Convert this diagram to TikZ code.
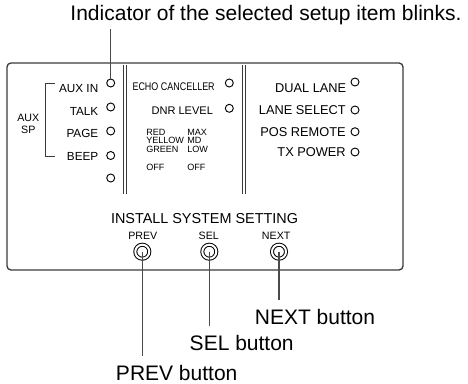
\documentclass[tikz,border=0pt]{standalone}
\usepackage{fontspec}
\setmainfont{Liberation Sans}
\usetikzlibrary{positioning, calc}
\definecolor{pnlLine}{HTML}{3A3A3A}
\definecolor{ldrLine}{HTML}{4A4A4A}
\tikzset{
  panel/.style    = {pnlLine, line width=1pt, rounded corners=3pt},
  divider/.style  = {pnlLine, line width=0.7pt},
  leader/.style   = {ldrLine, line width=1pt},
  lamp/.style     = {circle, draw=black, line width=0.7pt, minimum size=6pt, inner sep=0pt},
  btn/.style      = {circle, draw=black, line width=0.75pt, double, double distance=1.5pt,
                     minimum size=10.5pt, inner sep=0pt},
  lblL/.style     = {font=\fontsize{8.8}{10}\selectfont, inner sep=0pt},
  lblM/.style     = {font=\fontsize{8.3}{10}\selectfont, inner sep=0pt},
  lblR/.style     = {font=\fontsize{9.6}{11}\selectfont, inner sep=0pt},
  lgd/.style      = {font=\fontsize{6.8}{7}\selectfont, inner sep=0pt, anchor=west},
  btnlbl/.style   = {font=\fontsize{8}{9}\selectfont, inner sep=0pt},
  ttl/.style      = {font=\fontsize{10.8}{12}\selectfont, inner sep=0pt},
  callout/.style  = {font=\fontsize{15.75}{18}\selectfont, anchor=base},
}

\begin{document}
\begin{tikzpicture}[x=0.75pt,y=-0.75pt]
  \useasboundingbox (0,0) rectangle (468,383);
  % front panel
  \draw[panel] (7,63) rectangle (403,270);
  \draw[divider] (123.3,65) -- (123.3,194) (126.7,65) -- (126.7,194);
  \draw[divider] (242.2,65) -- (242.2,194) (245.6,65) -- (245.6,194);

  % left group
  \foreach \nm/\yy in {Aux/83, Talk/107, Page/131, Beep/155.5, Spare/178}
    \node[lamp] (lamp\nm) at (110.7,\yy) {};
  \node[lblL, anchor=east] (tAux)  at (98.5,89)  {AUX IN};
  \node[lblL, anchor=east] (tTalk) at (98.5,111) {TALK};
  \node[lblL, anchor=east] (tPage) at (98.5,133) {PAGE};
  \node[lblL, anchor=east] (tBeep) at (98.5,156) {BEEP};
  \draw[divider] (55,83.3) -- (45,83.3) -- (45,156) -- (55,156);
  \node[btnlbl, align=center] (tAuxSp) at (28.3,124) {AUX\\SP};

  % middle group
  \node[lamp] (lampEcho) at (229.3,83) {};
  \node[lamp] (lampDnr)  at (229.3,108.3) {};
  \node[lblM, anchor=east] (tEcho) at (215,86.7) {\scalebox{0.81}[1]{ECHO CANCELLER}};
  \node[lblM, anchor=east] (tDnr)  at (213.3,111) {DNR LEVEL};
  \foreach \cl/\lv/\yy [count=\i] in {RED/MAX/132, YELLOW/MD/140.5, GREEN/LOW/149, OFF/OFF/167.5}{
    \node[lgd] (lgColor\i) at (146,\yy) {\cl};
    \node[lgd] (lgLevel\i) at (187,\yy) {\lv};
  }

  % right group
  \foreach \nm/\yy in {Dual/82, Lane/110, Pos/131.7, Tx/152}
    \node[lamp] (lamp\nm) at (355,\yy) {};
  \node[lblR, anchor=east] (tDual) at (346.5,88)    {DUAL LANE};
  \node[lblR, anchor=east] (tLane) at (346,110)     {LANE SELECT};
  \node[lblR, anchor=east] (tPos)  at (346,131.7)   {POS REMOTE};
  \node[lblR, anchor=east] (tTx)   at (346,152)     {TX POWER};

  % setting buttons
  \node[ttl] (tInstall) at (204.5,218.3) {INSTALL SYSTEM SETTING};
  \node[btn] (btnPrev) at (142.3,251.7) {};
  \node[btn] (btnSel)  at (209.3,251.7) {};
  \node[btn] (btnNext) at (279,251.7) {};
  \node[btnlbl] (tPrev) at (142.8,236) {PREV};
  \node[btnlbl] (tSel)  at (208.8,236) {SEL};
  \node[btnlbl] (tNext) at (276.2,236) {NEXT};

  % callouts
  \node[callout] (blinkLbl) at (266,20) {Indicator of the selected setup item blinks.};
  \node[callout] (nextLbl) at (315,324)   {NEXT button};
  \node[callout] (selLbl)  at (241.7,350) {SEL button};
  \node[callout] (prevLbl) at (176.7,380) {PREV button};
  \draw[leader] (lampAux.north) -- (lampAux |- blinkLbl.south);
  \draw[leader, shorten >=3pt] (btnNext.center) -- (btnNext |- nextLbl.north);
  \draw[leader, shorten >=3pt] (btnSel.center)  -- (btnSel |- selLbl.north);
  \draw[leader, shorten >=3pt] (btnPrev.center) -- (btnPrev |- prevLbl.north);
\end{tikzpicture}
\end{document}
